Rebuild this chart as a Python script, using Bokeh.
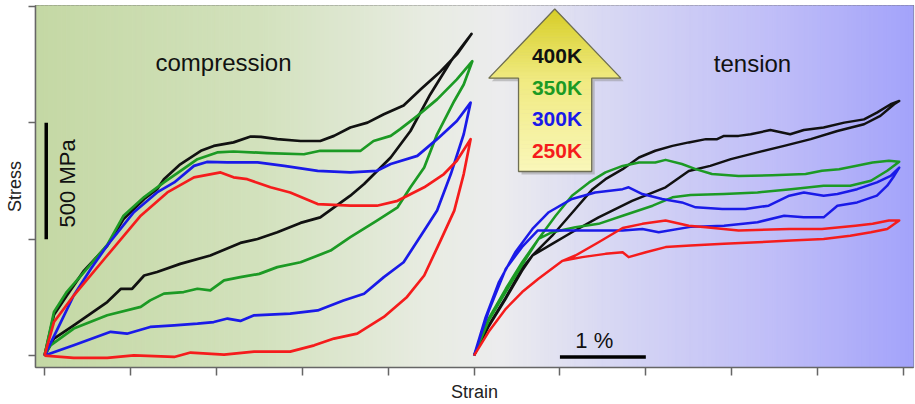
import numpy as np
from bokeh.plotting import figure
from bokeh.models import Range1d, FixedTicker, Label
from bokeh.embed import file_html
from bokeh.resources import INLINE

# ---------------- data (strain in %, stress in MPa) ----------------
temps = ["400K", "350K", "300K", "250K"]
temp_colors = ["#111111", "#1c9a24", "#1a1ae8", "#f51c1c"]

# compression loops (loading then unloading)
comp_400K_strain = [0, 0.11, 0.26, 0.46, 0.73, 0.92, 1.04, 1.16, 1.31, 1.39, 1.58, 1.82, 1.97, 2.20, 2.40, 2.52, 2.71, 2.98, 3.21, 3.37,
                    3.56, 3.76, 3.95, 4.18, 4.38, 4.61, 4.80, 4.97,
                    4.73, 4.49, 4.26, 4.03, 3.72, 3.56, 3.21, 2.98, 2.71, 2.48, 2.28, 1.93, 1.58, 1.31, 1.16, 1.02, 0.89, 0.73, 0.34, 0.11, 0]
comp_400K_stress = [0, 175, 258, 365, 472, 587, 630, 673, 715, 758, 822, 880, 901, 916, 941, 940, 930, 922, 922, 944,
                    980, 1001, 1037, 1075, 1144, 1221, 1294, 1382,
                    1265, 1122, 965, 851, 737, 687, 594, 570, 530, 501, 484, 430, 394, 359, 344, 287, 287, 230, 130, 73, 0]

comp_350K_strain = [0, 0.11, 0.26, 0.46, 0.73, 0.92, 1.16, 1.39, 1.58, 1.78, 2.01, 2.20, 2.59, 3.02, 3.21, 3.68, 3.83, 4.03, 4.14, 4.34,
                    4.57, 4.80, 4.98,
                    4.88, 4.77, 4.57, 4.42, 4.26, 4.11, 3.87, 3.56, 3.33, 2.98, 2.71, 2.50, 2.28, 2.09, 1.93, 1.78, 1.62, 1.39, 1.23, 1.12,
                    0.73, 0.34, 0.07, 0]
comp_350K_stress = [0, 187, 274, 359, 476, 601, 681, 744, 793, 844, 873, 877, 870, 865, 880, 880, 922, 944, 973, 1030,
                    1101, 1187, 1265,
                    1165, 1094, 951, 808, 723, 637, 580, 509, 451, 401, 380, 351, 337, 323, 280, 287, 273, 266, 237, 209,
                    173, 116, 44, 0]

comp_300K_strain = [0, 0.19, 0.34, 0.54, 0.73, 1.04, 1.31, 1.51, 1.74, 1.89, 2.13, 2.48, 2.79, 3.18, 3.56, 3.87, 4.03, 4.34, 4.57, 4.80,
                    4.96,
                    4.88, 4.73, 4.57, 4.42, 4.18, 3.95, 3.72, 3.48, 3.18, 2.86, 2.44, 2.28, 2.13, 1.97, 1.78, 1.51, 1.23, 0.96, 0.77, 0.34, 0]
comp_300K_stress = [0, 144, 258, 373, 473, 616, 701, 744, 815, 832, 830, 830, 815, 794, 787, 794, 823, 858, 930, 1008,
                    1087,
                    951, 780, 623, 537, 401, 337, 266, 237, 194, 180, 173, 149, 159, 144, 137, 130, 123, 94, 102, 44, 0]

comp_250K_strain = [0, 0.11, 0.34, 0.73, 1.12, 1.43, 1.74, 2.05, 2.20, 2.36, 2.52, 2.63, 2.86, 3.18, 3.56, 3.87, 4.11, 4.42, 4.65, 4.80,
                    4.96,
                    4.88, 4.77, 4.61, 4.42, 4.22, 3.95, 3.64, 3.37, 3.14, 2.86, 2.44, 2.09, 1.70, 1.51, 1.04, 0.73, 0.34, 0]
comp_250K_stress = [0, 144, 258, 430, 601, 701, 766, 787, 766, 758, 737, 723, 701, 651, 644, 644, 665, 723, 780, 837,
                    930,
                    780, 623, 494, 344, 252, 166, 94, 73, 44, 17, 17, 4, 13, -6, 1, -10, -10, 0]

# tension loops (loading then unloading)
tens_400K_strain = [5.00, 5.17, 5.37, 5.56, 5.68, 5.91, 6.18, 6.38, 6.53, 6.73, 6.92, 7.11, 7.31, 7.50, 7.70, 7.83, 7.91, 8.08, 8.22, 8.45,
                    8.68, 8.84, 9.07, 9.31, 9.54, 9.69, 9.85, 9.95,
                    9.89, 9.73, 9.54, 9.23, 8.92, 8.61, 8.30, 7.99, 7.75, 7.50, 7.23, 6.84, 6.45, 6.14, 5.91, 5.68, 5.56, 5.37, 5.17, 5.00]
tens_400K_stress = [0, 130, 250, 375, 430, 515, 630, 715, 758, 801, 851, 880, 901, 916, 930, 930, 944, 944, 951, 969,
                    951, 969, 980, 1001, 1015, 1044, 1080, 1094,
                    1080, 1030, 994, 965, 930, 901, 873, 844, 815, 793, 723, 665, 594, 530, 480, 430, 365, 245, 125, 0]

tens_350K_strain = [5.00, 5.17, 5.37, 5.56, 5.75, 5.95, 6.14, 6.34, 6.53, 6.73, 6.92, 7.11, 7.23, 7.42, 7.58, 7.77, 8.08, 8.47, 8.86, 9.05,
                    9.25, 9.44, 9.64, 9.83, 9.95,
                    9.81, 9.62, 9.38, 9.07, 8.69, 8.30, 7.91, 7.52, 7.31, 7.08, 6.73, 6.45, 6.18, 5.91, 5.75, 5.56, 5.37, 5.17, 5.00]
tens_350K_stress = [0, 159, 287, 401, 501, 601, 687, 744, 787, 815, 830, 830, 841, 823, 801, 780, 772, 775, 780, 794,
                    801, 815, 830, 837, 833,
                    794, 751, 730, 730, 715, 701, 694, 690, 680, 644, 601, 566, 551, 530, 501, 390, 274, 150, 0]

tens_300K_strain = [5.00, 5.13, 5.29, 5.48, 5.68, 5.87, 6.14, 6.41, 6.73, 6.80, 6.96, 7.19, 7.42, 7.58, 7.89, 8.16, 8.43, 8.67, 8.84, 9.07,
                    9.23, 9.46, 9.69, 9.85, 9.95,
                    9.89, 9.81, 9.69, 9.46, 9.23, 9.07, 8.84, 8.61, 8.30, 7.91, 7.52, 7.15, 6.96, 6.73, 6.41, 6.07, 5.74, 5.56, 5.37, 5.17, 5.00]
tens_300K_stress = [0, 159, 316, 444, 544, 616, 673, 701, 715, 723, 694, 673, 658, 637, 630, 630, 644, 687, 701, 687,
                    694, 715, 744, 772, 808,
                    772, 730, 687, 658, 644, 594, 594, 601, 573, 558, 553, 530, 544, 537, 537, 537, 537, 467, 373, 190, 0]

tens_250K_strain = [5.00, 5.17, 5.37, 5.56, 5.75, 6.03, 6.18, 6.45, 6.73, 6.96, 7.23, 7.50, 7.70, 8.08, 8.67, 9.05, 9.44, 9.64, 9.83, 9.95,
                    9.81, 9.62, 9.38, 9.07, 8.69, 8.30, 7.91, 7.52, 7.23, 7.00, 6.80, 6.73, 6.53, 6.26, 6.03]
tens_250K_stress = [0, 102, 201, 273, 330, 407, 430, 487, 548, 566, 580, 558, 551, 537, 544, 544, 558, 566, 580, 580,
                    544, 530, 515, 501, 494, 487, 480, 473, 466, 444, 423, 444, 437, 423, 407]

comp_strain = [comp_400K_strain, comp_350K_strain, comp_300K_strain, comp_250K_strain]
comp_stress = [comp_400K_stress, comp_350K_stress, comp_300K_stress, comp_250K_stress]
tens_strain = [tens_400K_strain, tens_350K_strain, tens_300K_strain, tens_250K_strain]
tens_stress = [tens_400K_stress, tens_350K_stress, tens_300K_stress, tens_250K_stress]

strain_ticks = [0, 1, 2, 3, 4, 5, 6, 7, 8, 9, 10]
stress_ticks = [0, 500, 1000, 1500]

stress_bar = [500, 1000]      # 500 MPa scale bar
strain_bar = [6.0, 7.0]       # 1 % scale bar

# ---------------- figure ----------------
X0, X1 = -0.105, 10.116
Y0, Y1 = -51.3, 1504.3
p = figure(width=915, height=404, output_backend="svg", toolbar_location=None,
           x_range=Range1d(X0, X1), y_range=Range1d(Y0, Y1),
           min_border_left=35, min_border_right=2, min_border_top=5, min_border_bottom=35)
p.grid.visible = False
p.border_fill_color = "white"
p.outline_line_color = "#666666"
p.outline_line_width = 1.2

# background gradient (green -> white -> blue)
bg_stops = [(0.0, (196, 216, 164)), (0.25, (210, 225, 188)), (0.45, (232, 236, 226)),
            (0.53, (236, 236, 238)), (0.65, (216, 216, 243)), (0.85, (190, 188, 248)), (1.0, (163, 163, 250))]


def interp_color(f, stops):
    fs = [s[0] for s in stops]
    rgb = [np.interp(f, fs, [s[1][k] for s in stops]) for k in range(3)]
    return "#%02x%02x%02x" % tuple(int(round(c)) for c in rgb)


n_bg = 200
edges = np.linspace(X0, X1, n_bg + 1)
bg_cols = [interp_color((i + 0.5) / n_bg, bg_stops) for i in range(n_bg)]
p.quad(left=edges[:-1], right=edges[1:], bottom=Y0, top=Y1, fill_color=bg_cols,
       line_color=bg_cols, line_width=1, level="underlay")

# axes
p.xaxis.ticker = FixedTicker(ticks=strain_ticks)
p.yaxis.ticker = FixedTicker(ticks=stress_ticks)
p.xaxis.major_label_overrides = {t: "" for t in strain_ticks}
p.yaxis.major_label_overrides = {t: "" for t in stress_ticks}
p.xaxis.axis_label = "Strain"
p.yaxis.axis_label = "Stress"
for ax in (p.xaxis[0], p.yaxis[0]):
    ax.axis_label_text_font = "Liberation Sans"
    ax.axis_label_text_font_size = "18px"
    ax.axis_label_text_font_style = "normal"
    ax.axis_label_text_color = "#222222"
    ax.axis_line_color = "#666666"
    ax.axis_line_width = 1.5
    ax.major_tick_line_color = "#666666"
    ax.major_tick_line_width = 1.5
    ax.major_tick_in = 0
    ax.minor_tick_line_color = None
    ax.major_label_standoff = 0
p.xaxis.major_tick_out = 8
p.yaxis.major_tick_out = 7
p.xaxis.axis_label_standoff = 6
p.yaxis.axis_label_standoff = 4

# curves
for xs, ys, c in zip(comp_strain, comp_stress, temp_colors):
    p.line(xs, ys, line_color=c, line_width=2.7, line_join="round")
for xs, ys, c in zip(tens_strain, tens_stress, temp_colors):
    p.line(xs, ys, line_color=c, line_width=2.5, line_join="round")

# scale bars
p.line([0.02, 0.02], stress_bar, line_color="black", line_width=3.5)
p.line(strain_bar, [-6, -6], line_color="black", line_width=3.5)
p.add_layout(Label(x=0.262, y=sum(stress_bar) / 2 - 10, text="500 MPa", angle=np.pi / 2, text_align="center",
                   text_baseline="middle", text_font="Liberation Sans", text_font_size="22px", text_color="#111111"))
p.add_layout(Label(x=6.40, y=64, text="1 %", text_align="center", text_baseline="alphabetic",
                   text_font="Liberation Sans", text_font_size="22px", text_color="#111111"))

# panel titles
p.add_layout(Label(x=2.084, y=1258, text="compression", text_align="center", text_baseline="alphabetic",
                   text_font="Liberation Sans", text_font_size="24px", text_color="#111111"))
p.add_layout(Label(x=8.242, y=1256, text="tension", text_align="center", text_baseline="alphabetic",
                   text_font="Liberation Sans", text_font_size="24px", text_color="#111111"))

# temperature arrow
tip_x, tip_y = 5.94, 1489
head_l, head_r, head_y = 5.172, 6.709, 1192
shaft_l, shaft_r, shaft_y = 5.518, 6.37, 791
arrow_x = [tip_x, head_r, shaft_r, shaft_r, shaft_l, shaft_l, head_l]
arrow_y = [tip_y, head_y, head_y, shaft_y, shaft_y, head_y, head_y]
p.patch([x + 0.035 for x in arrow_x], [y - 13 for y in arrow_y], fill_color="#8a8a8a", fill_alpha=0.45, line_color=None)

ar_stops = [(0.0, (250, 247, 186)), (0.574, (240, 234, 128)), (1.0, (216, 206, 38))]
band_xs, band_ys, band_cols = [], [], []
n_sh, n_hd = 24, 24
for yb in np.linspace(shaft_y, head_y, n_sh + 1)[:-1]:
    yt = yb + (head_y - shaft_y) / n_sh
    band_xs.append([shaft_l, shaft_r, shaft_r, shaft_l])
    band_ys.append([yb, yb, yt, yt])
    band_cols.append(interp_color(((yb + yt) / 2 - shaft_y) / (tip_y - shaft_y), ar_stops))
half = (head_r - head_l) / 2
for yb in np.linspace(head_y, tip_y, n_hd + 1)[:-1]:
    yt = yb + (tip_y - head_y) / n_hd
    wb = half * (tip_y - yb) / (tip_y - head_y)
    wt = half * (tip_y - yt) / (tip_y - head_y)
    band_xs.append([tip_x - wb, tip_x + wb, tip_x + wt, tip_x - wt])
    band_ys.append([yb, yb, yt, yt])
    band_cols.append(interp_color(((yb + yt) / 2 - shaft_y) / (tip_y - shaft_y), ar_stops))
p.patches(band_xs, band_ys, fill_color=band_cols, line_color=band_cols, line_width=0.8)
p.patch(arrow_x, arrow_y, fill_color=None, line_color="#6e6e55", line_width=1.3)

temp_label_y = [1289, 1152, 1020, 882]
for t, c, yy in zip(temps, temp_colors, temp_label_y):
    p.add_layout(Label(x=5.966, y=yy, text=t, text_align="center", text_baseline="middle",
                       text_font="Liberation Sans", text_font_size="21px", text_font_style="bold", text_color=c))

open("out.html", "w").write(file_html(p, INLINE))
